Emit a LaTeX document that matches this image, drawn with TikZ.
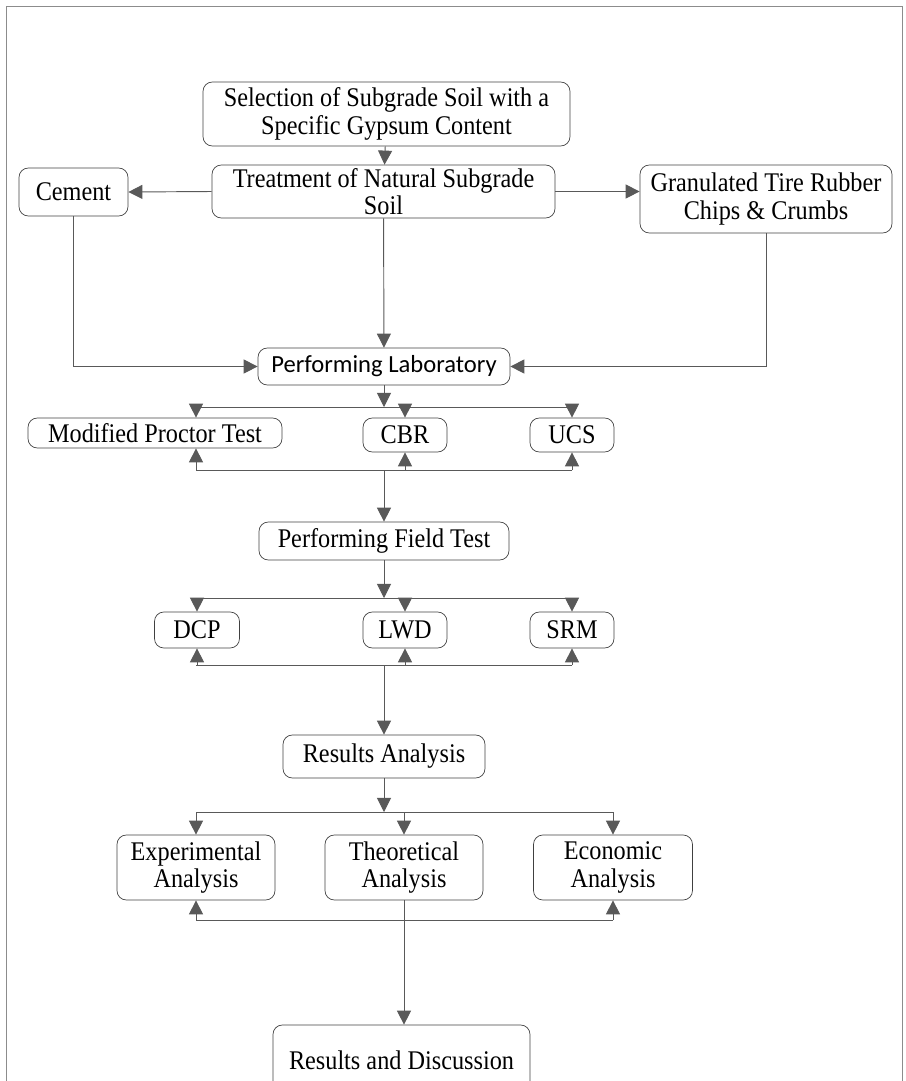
\documentclass[tikz,border=0pt]{standalone}
\usepackage{fontspec}
\setmainfont{Liberation Serif}[FakeStretch=0.9]
\newfontfamily\labfont{Carlito}
\usetikzlibrary{arrows.meta}

\begin{document}
\begin{tikzpicture}[x=0.03cm,y=-0.03cm,
	box/.style={draw=black!75,line width=0.6pt,rounded corners=8pt,align=center,inner sep=1pt,font=\fontsize{23}{23.5}\selectfont},
	labbox/.style={box,font=\labfont\fontsize{21}{23}\selectfont},
	flow/.style={draw=black!65,line width=0.8pt},
	arr/.style={flow,-{Triangle[length=12pt,width=12pt]},color=black!65}]

\useasboundingbox (0,0) rectangle (906,1081);

%outer frame
\draw[black!45,line width=0.8pt] (6,1081) -- (6,6) -- (902,6) -- (902,1081);

%top boxes
\node[box,minimum width=11.01cm,minimum height=1.92cm] (sel) at (386.5,114) {Selection of Subgrade Soil with a\\Specific Gypsum Content};
\node[box,minimum width=10.29cm,minimum height=1.59cm] (treat) at (383.5,191.5) {Treatment of Natural Subgrade\\Soil};
\node[box,minimum width=3.27cm,minimum height=1.44cm] (cement) at (73.5,192) {Cement};
\node[box,minimum width=7.56cm,minimum height=2.04cm] (rubber) at (766,199) {Granulated Tire Rubber\\Chips \& Crumbs};
\node[labbox,minimum width=7.56cm,minimum height=1.11cm] (lab) at (384,366.5) {Performing Laboratory};

%lab tests
\node[box,minimum width=7.62cm,minimum height=0.90cm] (proctor) at (155,433) {Modified Proctor Test};
\node[box,minimum width=2.52cm,minimum height=1.02cm] (cbr) at (405,435) {CBR};
\node[box,minimum width=2.52cm,minimum height=1.02cm] (ucs) at (572,435) {UCS};

\node[box,minimum width=7.50cm,minimum height=1.14cm] (field) at (384,541) {Performing Field Test};

%field tests
\node[box,minimum width=2.55cm,minimum height=1.08cm] (dcp) at (197,630) {DCP};
\node[box,minimum width=2.52cm,minimum height=1.08cm] (lwd) at (405,630) {LWD};
\node[box,minimum width=2.52cm,minimum height=1.08cm] (srm) at (572,630) {SRM};

\node[box,minimum width=6.06cm,minimum height=1.29cm] (res) at (384,756.5) {Results Analysis};

%analysis boxes
\node[box,minimum width=4.74cm,minimum height=1.95cm] (expa) at (196,867.5) {Experimental\\Analysis};
\node[box,minimum width=4.74cm,minimum height=1.95cm] (theo) at (404,867.5) {Theoretical\\Analysis};
\node[box,minimum width=4.77cm,minimum height=1.95cm] (econ) at (613,867.5) {Economic\\Analysis};

\node[box,minimum width=7.71cm,minimum height=2.10cm] (disc) at (401.5,1060) {Results and Discussion};

%junction points
\coordinate (lt1) at (196,407);
\coordinate (lt3) at (572,407);
\coordinate (lb1) at (196,470);
\coordinate (lb3) at (572,470);
\coordinate (ft1) at (196,598);
\coordinate (ft3) at (572,598);
\coordinate (fb1) at (196,665);
\coordinate (fb3) at (572,665);
\coordinate (rt1) at (196,812);
\coordinate (rt3) at (613,812);
\coordinate (rb1) at (196,920);
\coordinate (rb3) at (613,920);

%top part
\draw[arr] (sel) -- (treat);
\draw[arr] (treat.west) -- (cement.east);
\draw[arr] (treat.east) -- (treat.east -| rubber.west);
\draw[arr] (treat) -- (lab);
\draw[arr] (cement.south) |- (lab.west);
\draw[arr] (rubber.south) |- (lab.east);

%laboratory
\draw[arr] (lab.south) -- (lab.south |- lt1);
\draw[flow] (lt1) -- (lt3);
\draw[arr] (lt1) -- (lt1 |- proctor.north);
\draw[arr] (cbr.north |- lt1) -- (cbr.north);
\draw[arr] (lt3) -- (ucs.north);
\draw[flow] (lb1) -- (lb3);
\draw[arr] (lb1) -- (lb1 |- proctor.south);
\draw[arr] (cbr.south |- lb1) -- (cbr.south);
\draw[arr] (lb3) -- (ucs.south);
\draw[arr] (field.north |- lb1) -- (field.north);

%field
\draw[arr] (field.south) -- (field.south |- ft1);
\draw[flow] (ft1) -- (ft3);
\draw[arr] (dcp.north |- ft1) -- (dcp.north);
\draw[arr] (lwd.north |- ft1) -- (lwd.north);
\draw[arr] (ft3) -- (srm.north);
\draw[flow] (fb1) -- (fb3);
\draw[arr] (dcp.south |- fb1) -- (dcp.south);
\draw[arr] (lwd.south |- fb1) -- (lwd.south);
\draw[arr] (fb3) -- (srm.south);
\draw[arr] (res.north |- fb1) -- (res.north);

%analysis
\draw[arr] (res.south) -- (res.south |- rt1);
\draw[flow] (rt1) -- (rt3);
\draw[arr] (rt1) -- (expa.north);
\draw[arr] (theo.north |- rt1) -- (theo.north);
\draw[arr] (rt3) -- (econ.north);
\draw[flow] (rb1) -- (rb3);
\draw[arr] (rb1) -- (expa.south);
\draw[arr] (rb3) -- (econ.south);
\draw[arr] (theo.south) -- (theo.south |- disc.north);

\end{tikzpicture}
\end{document}
